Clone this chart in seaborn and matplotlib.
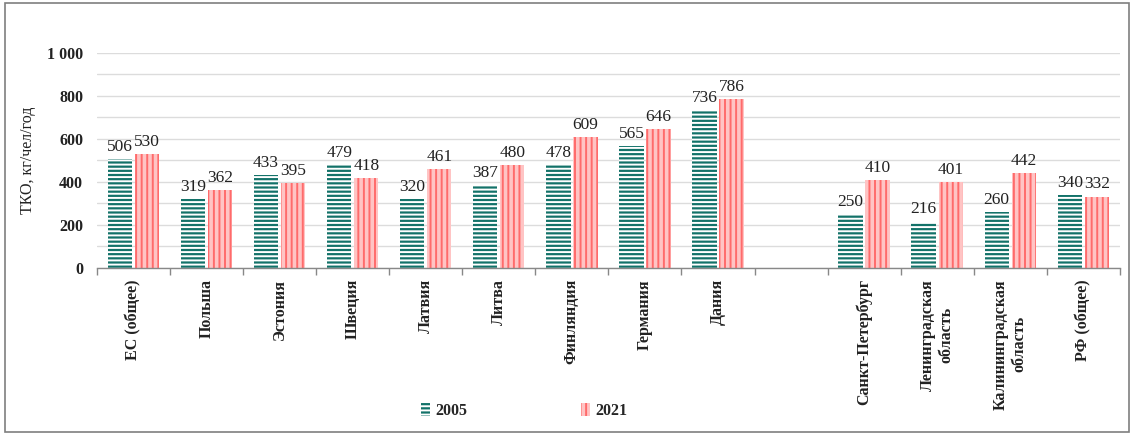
import numpy as np
import pandas as pd
import matplotlib
matplotlib.use("Agg")
import matplotlib.pyplot as plt
import seaborn as sns
from matplotlib.patches import Rectangle, Patch

categories = ["ЕС (общее)", "Польша", "Эстония", "Швеция", "Латвия", "Литва",
              "Финляндия", "Германия", "Дания", " ", "Санкт-Петербург",
              "Ленинградская\nобласть", "Калининградская\nобласть", "РФ (общее)"]
values_2005 = [506, 319, 433, 479, 320, 387, 478, 565, 736, np.nan, 250, 216, 260, 340]
values_2021 = [530, 362, 395, 418, 461, 480, 609, 646, 786, np.nan, 410, 401, 442, 332]
years = ["2005", "2021"]
y_ticks = [0, 200, 400, 600, 800, 1000]
y_tick_labels = ["0", "200", "400", "600", "800", "1 000"]

sns.set_theme(style="white")
plt.rcParams['font.family'] = ['Liberation Serif', 'DejaVu Serif']
plt.rcParams['hatch.linewidth'] = 1.4

df = pd.DataFrame({
    "cat": categories * 2,
    "year": [years[0]] * len(categories) + [years[1]] * len(categories),
    "val": values_2005 + values_2021,
}).dropna()

fig = plt.figure(figsize=(11.34, 4.34), dpi=100)
ax = fig.add_axes([0.0855, 0.3825, 0.902, 0.4955])

teal = "#137269"
pink_face = "#ffc4c4"
pink_line = "#ff6b6b"

sns.barplot(data=df, x="cat", y="val", hue="year", order=categories,
            hue_order=years, palette=[teal, pink_face], width=0.74, gap=0.1,
            ax=ax, legend=False, saturation=1)

for i, cont in enumerate(ax.containers):
    for bar in cont:
        if bar is None:
            continue
        if i == 0:
            bar.set_facecolor(teal)
            bar.set_edgecolor("white")
            bar.set_hatch("----")
        else:
            bar.set_facecolor(pink_face)
            bar.set_edgecolor(pink_line)
            bar.set_hatch("|||")
        bar.set_linewidth(0)
        h = bar.get_height()
        ax.annotate(f"{int(round(h))}", (bar.get_x() + bar.get_width() / 2, h),
                    xytext=(0, 3), textcoords="offset points", ha="center", va="bottom",
                    fontsize=12.5, color="#222222")

ax.set_ylim(0, 1000)
ax.set_xlim(-0.5, len(categories) - 0.5)
ax.set_yticks(y_ticks)
ax.set_yticklabels(y_tick_labels, fontsize=11.5, fontweight="bold", color="#222222")
ax.set_yticks(np.arange(100, 1000, 100), minor=True)
ax.yaxis.grid(True, which="both", color="#dcdcdc", linewidth=1)
ax.set_axisbelow(True)
ax.tick_params(axis="y", which="both", length=0, pad=10)

ax.set_xticks(range(len(categories)))
ax.set_xticklabels(categories, rotation=90, fontsize=11.5, fontweight="bold",
                   color="#222222", va="top", ha="center", multialignment="center")
ax.set_xticks(np.arange(-0.5, len(categories), 1), minor=True)
ax.tick_params(axis="x", which="major", length=0, pad=8)
ax.tick_params(axis="x", which="minor", length=5, width=1, color="#888888", direction="out", bottom=True)
ax.set_xlabel("")
ax.set_ylabel("ТКО, кг/чел/год", fontsize=11.5, color="#222222", labelpad=8)

for s in ["left", "right", "top"]:
    ax.spines[s].set_visible(False)
ax.spines["bottom"].set_color("#888888")
ax.spines["bottom"].set_linewidth(1)

handles = [Patch(facecolor=teal, edgecolor="white", hatch="----", linewidth=0),
           Patch(facecolor=pink_face, edgecolor=pink_line, hatch="|||", linewidth=0)]
fig.legend(handles, years, loc="center", bbox_to_anchor=(0.462, 0.053), ncol=2,
           frameon=False, handlelength=0.6, handleheight=0.8,
           handletextpad=0.3, columnspacing=7.1, prop={"weight": "bold", "size": 11.5})

fig.patches.append(Rectangle((0.004, 0.004), 0.992, 0.99, transform=fig.transFigure,
                             fill=False, edgecolor="#7f7f7f", linewidth=1.2))

fig.savefig("out.png", dpi=100)
